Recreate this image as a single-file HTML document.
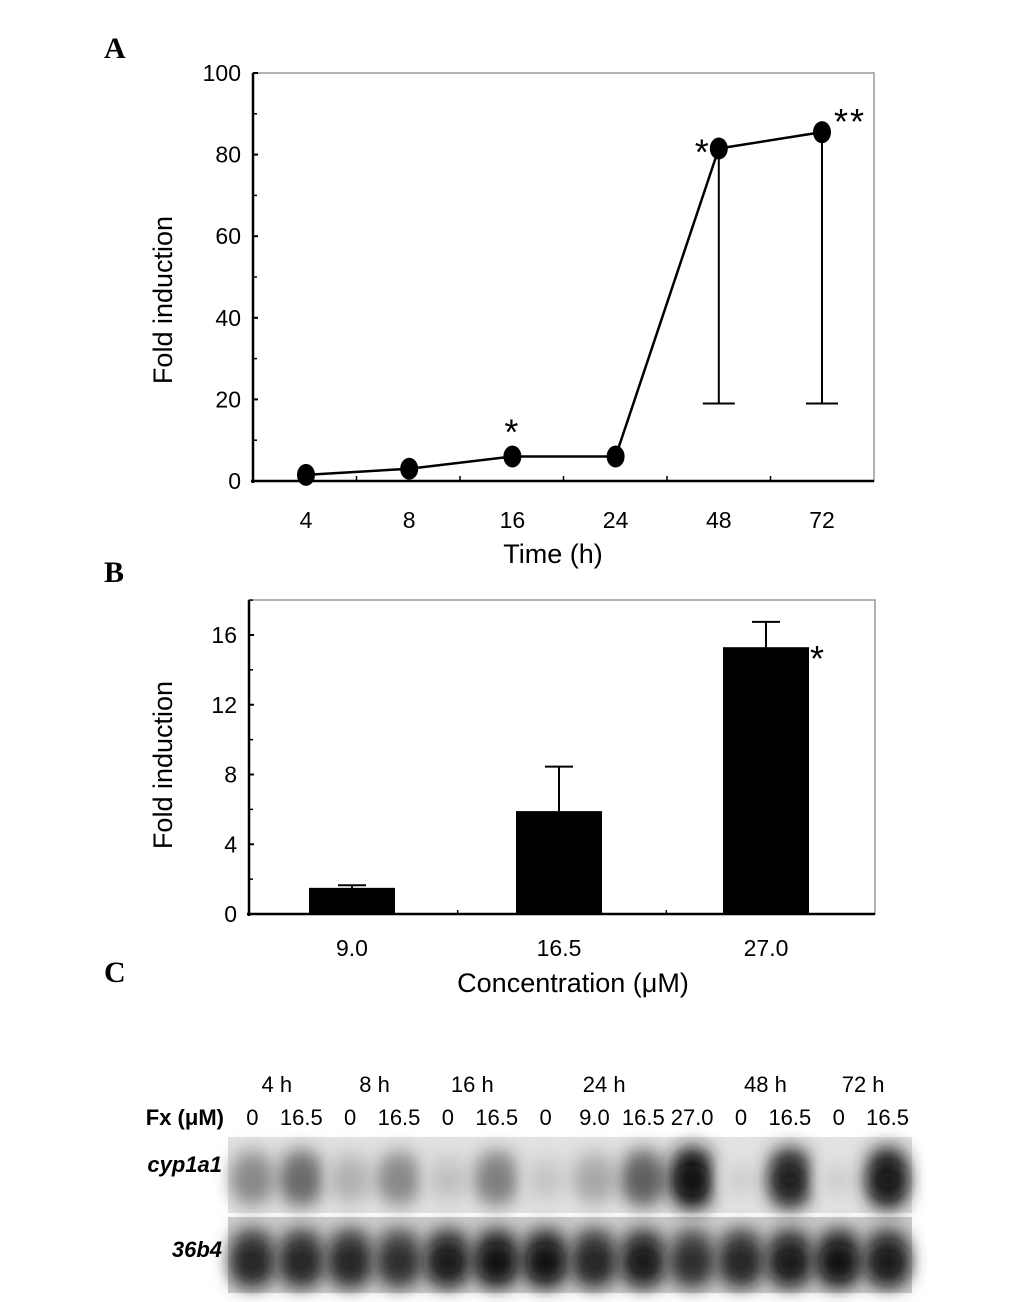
<!DOCTYPE html>
<html><head><meta charset="utf-8"><style>
html,body{margin:0;padding:0;background:#fff;}
svg{display:block;font-family:"Liberation Sans",sans-serif;}
</style></head><body>
<svg width="1033" height="1302" viewBox="0 0 1033 1302">
<defs>
<filter id="blur" x="-50%" y="-50%" width="200%" height="200%"><feGaussianBlur stdDeviation="9"/></filter>
</defs>
<g id="panelA"></g>
<g id="panelB"></g>
<g id="panelC"></g>
</svg>
<script>
// Panel A data
const timeCats = ["4","8","16","24","48","72"];
const timeVals = [1.5, 3, 6, 6, 81.5, 85.5];
const timeErrLow = [null, null, null, null, 19, 19];
const timeStars = ["", "", "*", "", "*", "**"];
const aTicks = [0,20,40,60,80,100];
// Panel B data
const concCats = ["9.0","16.5","27.0"];
const concVals = [1.5, 5.9, 15.3];
const concErrHigh = [1.65, 8.45, 16.75];
const concStars = ["", "", "*"];
const bTicks = [0,4,8,12,16];
// Panel C data
const laneTimes = ["4 h","8 h","16 h","24 h","48 h","72 h"];
const laneDoses = ["0","16.5","0","16.5","0","16.5","0","9.0","16.5","27.0","0","16.5","0","16.5"];
const cypIntensity = [0.4,0.55,0.2,0.4,0.12,0.45,0.1,0.25,0.6,1.0,0.05,0.9,0.05,0.95];
const b36Intensity = [0.85,0.85,0.85,0.8,0.9,0.95,0.95,0.85,0.9,0.8,0.85,0.9,0.95,0.9];

const NS="http://www.w3.org/2000/svg";
function mk(parent,tag,attrs){const e=document.createElementNS(NS,tag);for(const k in attrs)e.setAttribute(k,attrs[k]);parent.appendChild(e);return e;}

// ---------- Panel A ----------
(function(){
const g=document.getElementById('panelA');
const L=253,R=874,T=73,B=481;
const xPos=[306,409,513,617,721,822];
const xA=i=>xPos[0]+(xPos[5]-xPos[0])*i/5;
const yA=v=>B-(B-T)*v/100;
let t=mk(g,'text',{x:104,y:58,'font-size':30,'font-weight':'bold','font-family':'Liberation Serif, serif'});t.textContent='A';

let f=mk(g,'rect',{x:L,y:T,width:R-L,height:B-T,fill:'none',stroke:'#999','stroke-width':1.5});

mk(g,'line',{x1:L,y1:T,x2:L,y2:B+2,stroke:'#000','stroke-width':2.5});
mk(g,'line',{x1:L-2,y1:B,x2:R,y2:B,stroke:'#000','stroke-width':2.5});
aTicks.forEach(v=>{
  const y=yA(v);
  mk(g,'line',{x1:L,y1:y,x2:L+5,y2:y,stroke:'#000','stroke-width':2});
  const tt=mk(g,'text',{x:L-12,y:y+8,'font-size':23,'text-anchor':'end'});tt.textContent=v;
  
  if(v<100){mk(g,'line',{x1:L,y1:yA(v+10),x2:L+4,y2:yA(v+10),stroke:'#000','stroke-width':1.5});}
});
for(let i=0;i<=6;i++){const x=L+(R-L)*i/6;if(i>0&&i<6)mk(g,'line',{x1:x,y1:B,x2:x,y2:B-5,stroke:'#000','stroke-width':1.5});}
timeCats.forEach((c,i)=>{
  const tt=mk(g,'text',{x:xA(i),y:528,'font-size':23,'text-anchor':'middle'});tt.textContent=c;
  
});
let xt=mk(g,'text',{x:553,y:563,'font-size':27,'text-anchor':'middle'});xt.textContent='Time (h)';

let yt=mk(g,'text',{x:172,y:300,'font-size':27,'text-anchor':'middle',transform:'rotate(-90 172 300)'});yt.textContent='Fold induction';

timeErrLow.forEach((e,i)=>{ if(e===null)return;
  const x=xA(i);
  const eb=mk(g,'path',{d:`M${x} ${yA(timeVals[i])} V${yA(e)} M${x-16} ${yA(e)} H${x+16}`,stroke:'#000','stroke-width':2,fill:'none'});
  
});
const pts=timeVals.map((v,i)=>xA(i)+','+yA(v)).join(' ');
const ln=mk(g,'polyline',{points:pts,fill:'none',stroke:'#000','stroke-width':2.5});

timeVals.forEach((v,i)=>{
  const p=mk(g,'ellipse',{cx:xA(i),cy:yA(v),rx:9,ry:11,fill:'#000'});
  
  if(timeStars[i]){
    let sx=xA(i),sy=yA(v)-12,anchor='middle';
    if(i===4){sx=xA(i)-8;sy=yA(v)+16;anchor='end';}
    if(i===5){sx=xA(i)+12;sy=yA(v)+2;anchor='start';}
    const s=mk(g,'text',{x:sx,y:sy,'font-size':36,'text-anchor':anchor,'letter-spacing':2});s.textContent=timeStars[i];
    
  }
});
})();

// ---------- Panel B ----------
(function(){
const g=document.getElementById('panelB');
const L=249,R=875,T=600,B=914;
const yB=v=>B-(B-635)*v/16;
const xC=[352,559,766];
const xB=i=>xC[0]+(xC[2]-xC[0])*i/2;
let t=mk(g,'text',{x:104,y:582,'font-size':30,'font-weight':'bold','font-family':'Liberation Serif, serif'});t.textContent='B';

let f=mk(g,'rect',{x:L,y:T,width:R-L,height:B-T,fill:'none',stroke:'#999','stroke-width':1.5});

mk(g,'line',{x1:L,y1:T,x2:L,y2:B+2,stroke:'#000','stroke-width':2.5});
mk(g,'line',{x1:L-2,y1:B,x2:R,y2:B,stroke:'#000','stroke-width':2.5});
bTicks.forEach(v=>{
  const y=yB(v);
  mk(g,'line',{x1:L,y1:y,x2:L+5,y2:y,stroke:'#000','stroke-width':2});
  const tt=mk(g,'text',{x:L-12,y:y+8,'font-size':23,'text-anchor':'end'});tt.textContent=v;
  
  mk(g,'line',{x1:L,y1:yB(v+2),x2:L+4,y2:yB(v+2),stroke:'#000','stroke-width':1.5});
});
concCats.forEach((c,i)=>{
  const x=xB(i);
  const bar=mk(g,'rect',{x:x-43,y:yB(concVals[i]),width:86,height:B-yB(concVals[i]),fill:'#000'});
  
  const eb=mk(g,'path',{d:`M${x} ${yB(concVals[i])} V${yB(concErrHigh[i])} M${x-14} ${yB(concErrHigh[i])} H${x+14}`,stroke:'#000','stroke-width':2,fill:'none'});
  
  const tt=mk(g,'text',{x:x,y:956,'font-size':23,'text-anchor':'middle'});tt.textContent=c;
  
  if(concStars[i]){const s=mk(g,'text',{x:x+44,y:yB(concVals[i])+24,'font-size':36});s.textContent=concStars[i];
  }
});
for(let i=1;i<3;i++){const x=L+(R-L)*i/3;mk(g,'line',{x1:x,y1:B,x2:x,y2:B-4,stroke:'#000','stroke-width':1.5});}
let xt=mk(g,'text',{x:573,y:992,'font-size':27,'text-anchor':'middle'});xt.textContent='Concentration (μM)';

let yt=mk(g,'text',{x:172,y:765,'font-size':27,'text-anchor':'middle',transform:'rotate(-90 172 765)'});yt.textContent='Fold induction';

})();

// ---------- Panel C ----------
(function(){
const g=document.getElementById('panelC');
let t=mk(g,'text',{x:104,y:982,'font-size':30,'font-weight':'bold','font-family':'Liberation Serif, serif'});t.textContent='C';

const X0=228,X1=912,n=laneDoses.length,w=(X1-X0)/n;
const lx=i=>X0+w*(i+0.5);
const timeLane=[0.5,2.5,4.5,7.2,10.5,12.5];
laneTimes.forEach((s,i)=>{
  const tt=mk(g,'text',{x:lx(timeLane[i]),y:1092,'font-size':22,'text-anchor':'middle'});tt.textContent=s;
  
});
laneDoses.forEach((s,i)=>{
  const tt=mk(g,'text',{x:lx(i),y:1125,'font-size':22,'text-anchor':'middle'});tt.textContent=s;
  
});
let fx=mk(g,'text',{x:224,y:1125,'font-size':22,'text-anchor':'end','font-weight':'bold'});fx.textContent='Fx (μM)';

let c1=mk(g,'text',{x:222,y:1172,'font-size':22,'text-anchor':'end','font-style':'italic','font-weight':'bold'});c1.textContent='cyp1a1';

let c2=mk(g,'text',{x:222,y:1257,'font-size':22,'text-anchor':'end','font-style':'italic','font-weight':'bold'});c2.textContent='36b4';

const r1=mk(g,'rect',{x:X0,y:1137,width:X1-X0,height:76,fill:'#e2e2e2'});

const r2=mk(g,'rect',{x:X0,y:1217,width:X1-X0,height:76,fill:'#cfcfcf'});

cypIntensity.forEach((v,i)=>{
  const c=Math.round(215-205*v);
  const b=mk(g,'rect',{x:lx(i)-20,y:1152-6*v,width:40,height:52+12*v,rx:18,fill:`rgb(${c+20>255?255:c+20},${c+20>255?255:c+20},${c+20>255?255:c+20})`,filter:'url(#blur)'});
  
  const k=mk(g,'ellipse',{cx:lx(i),cy:1180,rx:17,ry:15,fill:`rgb(${c},${c},${c})`,filter:'url(#blur)'});
  
});
b36Intensity.forEach((v,i)=>{
  const c=Math.round(200-195*v);
  const b=mk(g,'rect',{x:lx(i)-21,y:1228,width:42,height:60,rx:18,fill:`rgb(${c+40},${c+40},${c+40})`,filter:'url(#blur)'});
  
  const k=mk(g,'ellipse',{cx:lx(i),cy:1262,rx:19,ry:18,fill:`rgb(${c},${c},${c})`,filter:'url(#blur)'});
  
});
})();
</script>
</body></html>
